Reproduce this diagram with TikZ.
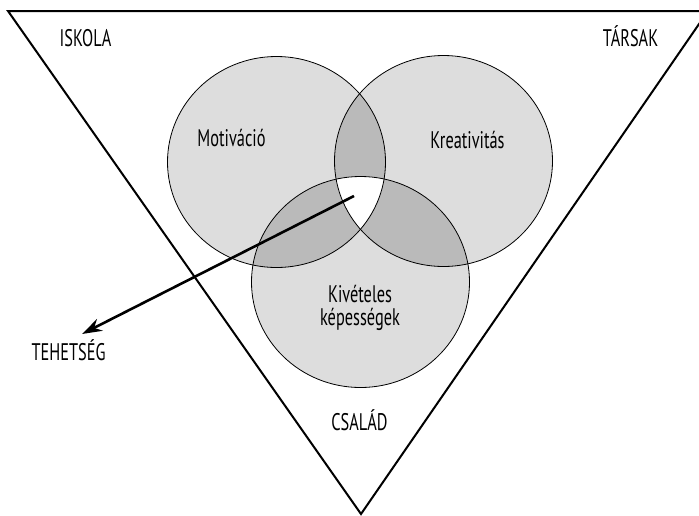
\documentclass[tikz,border=0pt]{standalone}
\usepackage{fontspec}
\setmainfont[FakeStretch=0.68]{PT Sans}
\usetikzlibrary{arrows.meta}
\definecolor{ringgray}{RGB}{221,221,221}
\definecolor{lensgray}{RGB}{186,186,186}
\tikzset{
	labeltext/.style={font=\fontsize{24}{23.5}\selectfont, inner sep=0pt, align=center},
	ring/.style={draw=black, line width=0.8pt},
}
\begin{document}
\begin{tikzpicture}[x=1pt,y=-1pt]
	\useasboundingbox (0,0) rectangle (699,515);
	\clip (0,0) rectangle (699,515);

	\coordinate (motiv) at (276.5,162);
	\coordinate (kreat) at (443.5,161);
	\coordinate (kepes) at (360.5,282);

	\draw[line width=2pt] (8,11) -- (708,11) -- (361,514) -- cycle;

	\fill[ringgray] (motiv) ellipse (109pt and 105.5pt);
	\fill[ringgray] (kreat) ellipse (109pt and 105.5pt);
	\fill[ringgray] (kepes) ellipse (109pt and 105.5pt);
	\begin{scope}
		\clip (kreat) ellipse (109pt and 105.5pt);
		\fill[lensgray] (kepes) ellipse (109pt and 105.5pt);
	\end{scope}
	\begin{scope}
		\clip (motiv) ellipse (109pt and 105.5pt);
		\fill[lensgray] (kreat) ellipse (109pt and 105.5pt);
		\fill[lensgray] (kepes) ellipse (109pt and 105.5pt);
		\clip (kreat) ellipse (109pt and 105.5pt);
		\fill[white] (kepes) ellipse (109pt and 105.5pt);
	\end{scope}
	\draw[ring] (motiv) ellipse (109pt and 105.5pt);
	\draw[ring] (kreat) ellipse (109pt and 105.5pt);
	\draw[ring] (kepes) ellipse (109pt and 105.5pt);

	\node[labeltext, anchor=base] (iskola) at (85.5,46.7) {ISKOLA};
	\node[labeltext, anchor=base] (tarsak) at (630.5,46) {TÁRSAK};
	\node[labeltext, anchor=base] (motivacio) at (231.5,146.7) {Motiváció};
	\node[labeltext, anchor=base] (kreativitas) at (467.5,148.3) {Kreativitás};
	\node[labeltext] (kiveteles) at (360,308) {Kivételes\\képességek};
	\node[labeltext, anchor=base] (tehetseg) at (68.5,360.7) {TEHETSÉG};
	\node[labeltext, anchor=base] (csalad) at (359.5,430) {CSALÁD};

	\coordinate (mag) at (354,196);
	\coordinate (tip) at (82,334);
	\draw[line width=2.6pt, -{Stealth[length=20pt, width=13pt]}] (mag) -- (tip);
\end{tikzpicture}
\end{document}
